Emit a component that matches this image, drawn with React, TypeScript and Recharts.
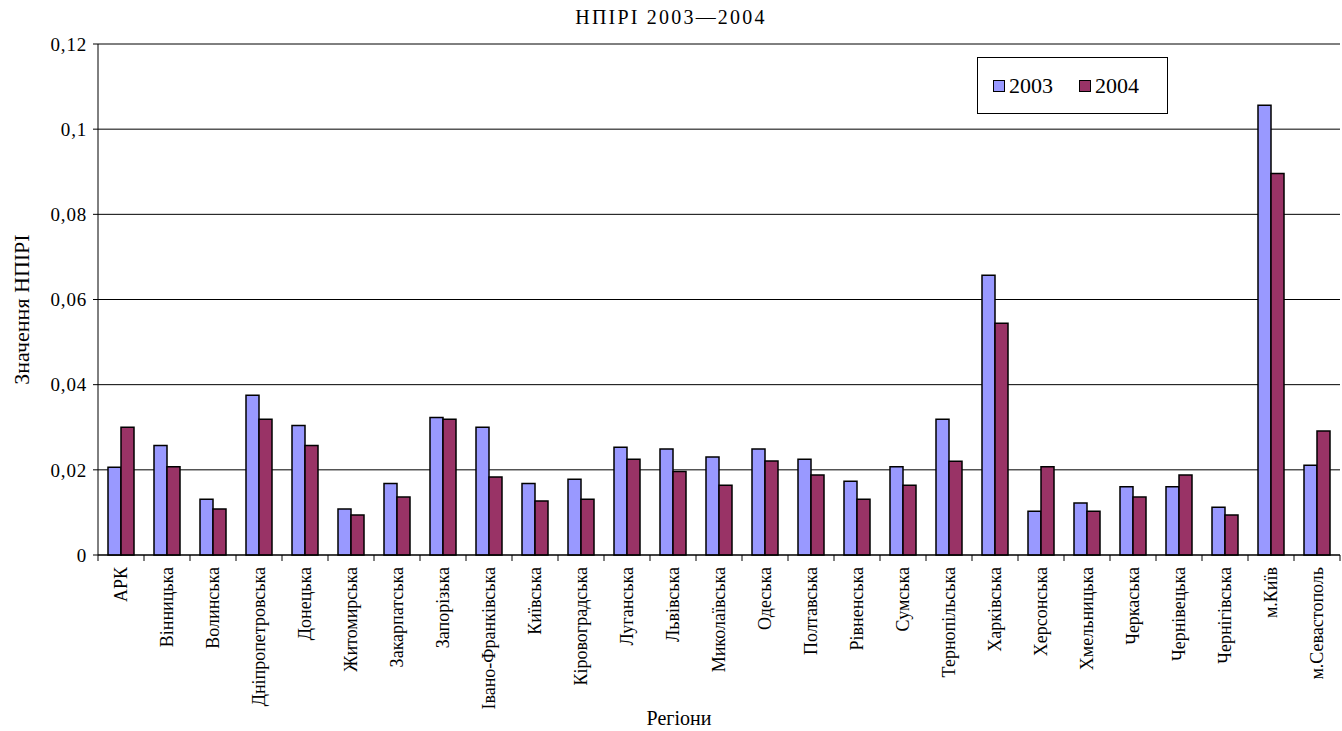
import React from 'react';
import { BarChart, Bar, XAxis, YAxis, CartesianGrid, Legend } from 'recharts';

const regions = [
  'АРК', 'Вінницька', 'Волинська', 'Дніпропетровська', 'Донецька', 'Житомирська',
  'Закарпатська', 'Запорізька', 'Івано-Франківська', 'Київська', 'Кіровоградська',
  'Луганська', 'Львівська', 'Миколаївська', 'Одеська', 'Полтавська', 'Рівненська',
  'Сумська', 'Тернопільська', 'Харківська', 'Херсонська', 'Хмельницька', 'Черкаська',
  'Чернівецька', 'Чернігівська', 'м.Київ', 'м.Севастополь',
];

const values2003 = [
  0.0206, 0.0257, 0.0131, 0.0375, 0.0304, 0.0108, 0.0168, 0.0323, 0.030, 0.0168,
  0.0178, 0.0253, 0.0249, 0.0230, 0.0249, 0.0225, 0.0173, 0.0207, 0.0319, 0.0657,
  0.0103, 0.0122, 0.0160, 0.0160, 0.0112, 0.1056, 0.0211,
];

const values2004 = [
  0.030, 0.0207, 0.0108, 0.0319, 0.0257, 0.0094, 0.0136, 0.0319, 0.0183, 0.0127,
  0.0131, 0.0225, 0.0196, 0.0164, 0.0221, 0.0188, 0.0131, 0.0164, 0.0220, 0.0544,
  0.0207, 0.0103, 0.0136, 0.0188, 0.0094, 0.0896, 0.0291,
];

const yTicks = [0, 0.02, 0.04, 0.06, 0.08, 0.1, 0.12];

const data = regions.map((name, i) => ({ name, y2003: values2003[i], y2004: values2004[i] }));

const W = 1342;
const H = 731;
const PLOT_LEFT = 98;
const PLOT_RIGHT = 2;
const band = (W - PLOT_LEFT - PLOT_RIGHT) / regions.length;
const font = 'Liberation Serif';

// category labels rotated, tick marks sit between categories like excel
const CategoryTick = (props: any) => {
  const { x, y, payload, index } = props;
  const left = x - band / 2;
  return (
    <g>
      <line x1={left} x2={left} y1={y} y2={y + 6} stroke="#000" />
      {index === regions.length - 1 && (
        <line x1={x + band / 2} x2={x + band / 2} y1={y} y2={y + 6} stroke="#000" />
      )}
      <text
        x={x}
        y={y + 12}
        transform={`rotate(-90 ${x} ${y + 12})`}
        textAnchor="end"
        dominantBaseline="central"
        fontFamily={font}
        fontSize={18}
        fill="#000"
      >
        {payload.value}
      </text>
    </g>
  );
};

const YLabel = (props: any) => {
  const { viewBox } = props;
  const cx = viewBox.x + 13;
  const cy = viewBox.y + viewBox.height / 2 + 10;
  return (
    <text x={cx} y={cy} transform={`rotate(-90 ${cx} ${cy})`} textAnchor="middle"
      dominantBaseline="central" fontFamily={font} fontSize={22} fill="#000">
      Значення НПІРІ
    </text>
  );
};

const XLabel = (props: any) => {
  const { viewBox } = props;
  return (
    <text x={679} y={viewBox.y + 163} textAnchor="middle" dominantBaseline="central"
      fontFamily={font} fontSize={20} fill="#000">
      Регіони
    </text>
  );
};

const LegendBox = ({ payload }: any) => (
  <div style={{
    border: '1px solid #000', background: '#fff', height: 57, boxSizing: 'border-box',
    display: 'flex', alignItems: 'center', paddingLeft: 15, fontFamily: font, fontSize: 22,
  }}>
    {(payload || []).map((p: any) => (
      <div key={p.value} style={{ display: 'flex', alignItems: 'center', marginRight: 26 }}>
        <span style={{ width: 10, height: 10, background: p.color, border: '1.5px solid #000', marginRight: 4 }} />
        <span>{p.value}</span>
      </div>
    ))}
  </div>
);

export default function App() {
  return (
    <div style={{ position: 'absolute', left: 0, top: 0, width: W, height: H, background: '#fff' }}>
      <div style={{
        position: 'absolute', left: 471, top: 5, width: 400, textAlign: 'center',
        fontFamily: font, fontSize: 20, letterSpacing: 2.2, lineHeight: '24px',
      }}>
        НПІРІ 2003—2004
      </div>
      <BarChart
        width={W}
        height={H}
        data={data}
        margin={{ top: 44, right: PLOT_RIGHT, left: 8, bottom: 0 }}
        barCategoryGap={10}
        barGap={0}
      >
        <CartesianGrid vertical={false} stroke="#000" />
        <XAxis
          dataKey="name"
          interval={0}
          height={176}
          tickSize={0}
          tickMargin={0}
          axisLine={{ stroke: '#000' }}
          tickLine={false}
          tick={<CategoryTick />}
          label={<XLabel />}
        />
        <XAxis xAxisId="top" orientation="top" dataKey="name" height={0} tick={false}
          tickLine={false} axisLine={{ stroke: '#808080' }} />
        <YAxis
          width={90}
          domain={[0, 0.12]}
          ticks={yTicks}
          interval={0}
          tickSize={5}
          tickMargin={6}
          axisLine={{ stroke: '#000' }}
          tickLine={{ stroke: '#000' }}
          tick={{ fill: '#000', fontSize: 19, fontFamily: font, letterSpacing: 0.8 }}
          tickFormatter={(v: number) => String(v).replace('.', ',')}
          label={<YLabel />}
        />
        <YAxis yAxisId="right" orientation="right" width={0} tick={false} tickLine={false}
          axisLine={{ stroke: '#808080' }} domain={[0, 0.12]} />
        <Legend
          layout="horizontal"
          verticalAlign="middle"
          align="center"
          content={<LegendBox />}
          wrapperStyle={{ left: 977, top: 57, width: 191, height: 58 }}
        />
        <Bar dataKey="y2003" name="2003" fill="#9999FF" stroke="#000" strokeWidth={1.5} isAnimationActive={false} />
        <Bar dataKey="y2004" name="2004" fill="#993366" stroke="#000" strokeWidth={1.5} isAnimationActive={false} />
      </BarChart>
    </div>
  );
}
